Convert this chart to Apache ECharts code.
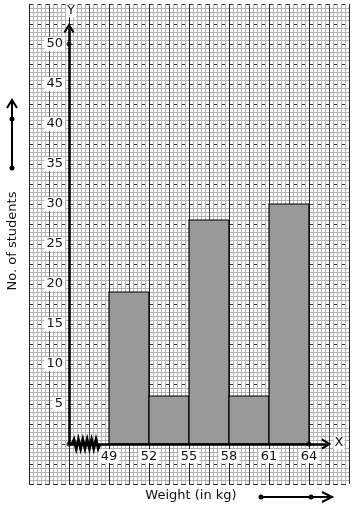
<!DOCTYPE html>
<html>
<head>
<meta charset="utf-8">
<script src="https://cdn.jsdelivr.net/npm/echarts@6/dist/echarts.min.js"></script>
<style>
html,body{margin:0;padding:0;background:#fff;}
#chart{width:354px;height:510px;}
</style>
</head>
<body>
<div id="chart"></div>
<script>
// ---- data ----
const binStarts = [49, 52, 55, 58, 61];
const binEnds = [52, 55, 58, 61, 64];
const counts = [19, 6, 28, 6, 30];
const xTickLabels = [49, 52, 55, 58, 61, 64];
const yTickLabels = [5, 10, 15, 20, 25, 30, 35, 40, 45, 50];
const xTitle = 'Weight (in kg)';
const yTitle = 'No. of students';

// ---- chart ----
const FONT = 'DejaVu Sans';
const chart = echarts.init(document.getElementById('chart'), null, {renderer: 'canvas'});

const histData = binStarts.map((s, i) => [s, binEnds[i], counts[i]]);
const originX = 46; // visual origin on the broken x scale
const chevronUp = 'path://M5,0 L10,8.2 L8.4,9.2 L5,3.6 L1.6,9.2 L0,8.2 Z';

const zig = [[72, 444]];
for (let i = 0; i < 12; i++) zig.push([74 + i * 2.2, i % 2 ? 448.5 : 439.5]);
zig.push([100, 444]);

const option = {
  animation: false,
  backgroundColor: '#fff',
  grid: {left: 29, top: 4, width: 320, height: 480, containLabel: false},
  xAxis: [
    {
      type: 'value', min: 43, max: 67, position: 'bottom', offset: -40,
      axisLine: {show: false, onZero: false}, axisTick: {show: false},
      splitLine: {show: false},
      axisLabel: {
        customValues: xTickLabels, margin: 5, color: '#111',
        fontFamily: FONT, fontSize: 13, backgroundColor: '#fff', padding: [1, 2, 0, 2]
      },
      z: 5
    },
    {
      type: 'value', min: 0, max: 16, interval: 1, position: 'top',
      axisLine: {show: false}, axisTick: {show: false}, axisLabel: {show: false},
      splitLine: {show: true, lineStyle: {color: ['#222', '#4a4a4a'], width: 1}},
      minorTick: {show: false, splitNumber: 5},
      minorSplitLine: {show: true, lineStyle: {color: '#b4b4b4', width: 1}}
    }
  ],
  yAxis: [
    {
      type: 'value', min: -5, max: 55, position: 'left', offset: -40,
      axisLine: {show: false, onZero: false}, axisTick: {show: false},
      splitLine: {show: false},
      axisLabel: {
        customValues: yTickLabels, margin: 4, color: '#111',
        fontFamily: FONT, fontSize: 13, backgroundColor: '#fff', padding: [1, 2, 0, 2]
      },
      z: 5
    },
    {
      type: 'value', min: 0, max: 24, interval: 1, position: 'right',
      axisLine: {show: false}, axisTick: {show: false}, axisLabel: {show: false},
      splitLine: {show: true, lineStyle: {color: '#333', width: 1, type: [5, 3]}},
      minorTick: {show: false, splitNumber: 5},
      minorSplitLine: {show: true, lineStyle: {color: '#b4b4b4', width: 1}}
    }
  ],
  series: [
    {
      type: 'custom', xAxisIndex: 0, yAxisIndex: 0, z: 3,
      data: histData,
      encode: {x: [0, 1], y: 2},
      renderItem: function (params, api) {
        const p0 = api.coord([api.value(0), api.value(2)]);
        const p1 = api.coord([api.value(1), 0]);
        return {
          type: 'rect',
          shape: {x: p0[0], y: p0[1], width: p1[0] - p0[0], height: p1[1] - p0[1]},
          style: {fill: '#999', stroke: '#000', lineWidth: 1.2}
        };
      }
    },
    {
      type: 'line', xAxisIndex: 0, yAxisIndex: 0, z: 6, data: [], silent: true,
      markLine: {
        silent: true, animation: false,
        symbol: ['none', chevronUp], symbolSize: [11, 10],
        label: {show: false},
        lineStyle: {color: '#000', width: 2.6, type: 'solid'},
        emphasis: {disabled: true},
        data: [
          [{coord: [originX, 0]}, {coord: [originX, 52.0]}],
          [{coord: [originX, 0]}, {coord: [65.3, 0]}]
        ]
      }
    },
    {
      type: 'scatter', xAxisIndex: 0, yAxisIndex: 0, z: 7, silent: true,
      symbolSize: 5, itemStyle: {color: '#000'},
      data: [[originX, 0], [originX, 50], [64, 0]]
    }
  ],
  graphic: [
    {type: 'polyline', z: 100, shape: {points: zig}, style: {stroke: '#000', lineWidth: 2.8, fill: null}},
    // Y / X axis letters
    {type: 'text', z: 100, x: 71, y: 11, style: {text: 'Y', font: '13px "DejaVu Sans"', fill: '#111', align: 'center', verticalAlign: 'middle', backgroundColor: '#fff', padding: [0, 1]}},
    {type: 'text', z: 100, x: 339, y: 443, style: {text: 'X', font: '13px "DejaVu Sans"', fill: '#111', align: 'center', verticalAlign: 'middle', backgroundColor: '#fff', padding: [0, 1]}},
    // axis titles
    {type: 'text', z: 100, x: 12.5, y: 241, rotation: Math.PI / 2, style: {text: yTitle, font: '13px "DejaVu Sans"', fill: '#111', align: 'center', verticalAlign: 'middle'}},
    {type: 'text', z: 100, x: 191, y: 496, style: {text: xTitle, font: '13px "DejaVu Sans"', fill: '#111', align: 'center', verticalAlign: 'middle'}},
    // left decorative arrow
    {type: 'line', z: 100, shape: {x1: 12, y1: 168, x2: 12, y2: 101}, style: {stroke: '#000', lineWidth: 2}},
    {type: 'polyline', z: 100, shape: {points: [[7, 108], [12, 100], [17, 108]]}, style: {stroke: '#000', lineWidth: 2, fill: null}},
    {type: 'circle', z: 100, shape: {cx: 12, cy: 119, r: 2.5}, style: {fill: '#000'}},
    {type: 'circle', z: 100, shape: {cx: 12, cy: 168, r: 2.5}, style: {fill: '#000'}},
    // bottom decorative arrow
    {type: 'line', z: 100, shape: {x1: 261, y1: 497, x2: 331, y2: 497}, style: {stroke: '#000', lineWidth: 2}},
    {type: 'polyline', z: 100, shape: {points: [[322, 492], [332, 497], [322, 502]]}, style: {stroke: '#000', lineWidth: 2, fill: null}},
    {type: 'circle', z: 100, shape: {cx: 261, cy: 497, r: 2.5}, style: {fill: '#000'}},
    {type: 'circle', z: 100, shape: {cx: 311, cy: 497, r: 2.5}, style: {fill: '#000'}}
  ]
};
chart.setOption(option);
</script>
</body>
</html>
